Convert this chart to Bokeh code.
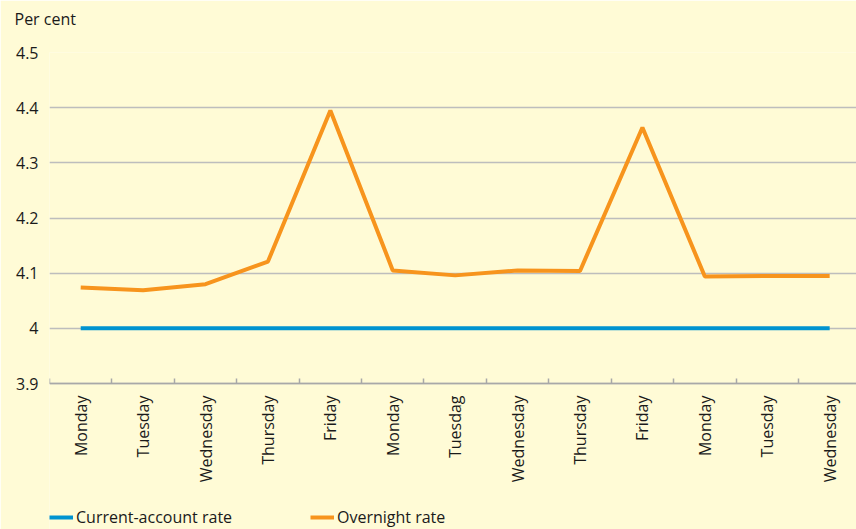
import math
from bokeh.plotting import figure
from bokeh.models import (Range1d, FixedTicker, CustomJSTickFormatter, Legend,
                          LegendItem, ColumnDataSource)
from bokeh.embed import file_html
from bokeh.resources import INLINE

days = ["Monday", "Tuesday", "Wednesday", "Thursday", "Friday",
        "Monday", "Tuesdag", "Wednesday", "Thursday", "Friday",
        "Monday", "Tuesday", "Wednesday"]
current_account = [4.0] * 13
overnight = [4.074, 4.069, 4.080, 4.121, 4.395, 4.105, 4.096, 4.105,
             4.104, 4.364, 4.094, 4.095, 4.095]
y_ticks = [3.9, 4.0, 4.1, 4.2, 4.3, 4.4, 4.5]

idx = list(range(len(days)))
src = ColumnDataSource(dict(x=idx, ca=current_account, on=overnight))

BG = "#FFFBD6"
FONT = "Open Sans"
TXT = "#1a1a1a"
FS = "16px"

# the frame reaches the bottom of the window; the value axis spans 331 px of it
PLOT_H = 331
EXTRA_H = 146
y_lo, y_hi = y_ticks[0], y_ticks[-1]
y_start = y_lo - EXTRA_H * (y_hi - y_lo) / PLOT_H

p = figure(frame_width=807, frame_height=PLOT_H + EXTRA_H,
           output_backend="svg", toolbar_location=None,
           x_range=Range1d(-0.5, 12.43), y_range=Range1d(y_start, y_hi),
           min_border_left=49, min_border_right=0, min_border_top=52,
           min_border_bottom=0)
p.background_fill_color = BG
p.border_fill_color = BG
p.outline_line_color = None

blue = p.line("x", "ca", source=src, line_color="#0093D0", line_width=4)
orange = p.line("x", "on", source=src, line_color="#F7941D", line_width=4)

# x axis, drawn at the 3.9 level
p.xaxis.fixed_location = y_lo
p.xaxis.ticker = FixedTicker(ticks=idx, minor_ticks=[i - 0.5 for i in range(14)])
p.xaxis.major_label_overrides = {i: d for i, d in enumerate(days)}
p.xaxis.major_label_orientation = math.pi / 2
p.xaxis.major_tick_line_color = None
p.xaxis.major_tick_out = 0
p.xaxis.major_tick_in = 0
p.xaxis.minor_tick_line_color = "#a8a8a8"
p.xaxis.minor_tick_line_width = 1.5
p.xaxis.minor_tick_in = 5
p.xaxis.minor_tick_out = 0
p.xaxis.axis_line_color = "#a8a8a8"
p.xaxis.axis_line_width = 1.5
p.xaxis.major_label_standoff = 12
p.xaxis.major_label_text_font = FONT
p.xaxis.major_label_text_font_size = FS
p.xaxis.major_label_text_color = TXT

# y axis
p.yaxis.ticker = FixedTicker(ticks=y_ticks)
p.yaxis.formatter = CustomJSTickFormatter(code="return tick.toFixed(1).replace('.0', '');")
p.yaxis.axis_line_color = None
p.yaxis.major_tick_line_color = None
p.yaxis.major_tick_out = 0
p.yaxis.major_tick_in = 0
p.yaxis.minor_tick_line_color = None
p.yaxis.major_label_standoff = 11
p.yaxis.major_label_text_font = FONT
p.yaxis.major_label_text_font_size = FS
p.yaxis.major_label_text_color = TXT

p.xgrid.grid_line_color = None
p.ygrid.grid_line_color = "#bdbdbd"
p.ygrid.grid_line_width = 1.5

# title ("Per cent"); the blank second line lifts it away from the frame
p.title.text = "Per cent\n\u00a0"
p.title.align = "left"
p.title.vertical_align = "bottom"
p.title.offset = -35
p.title.standoff = 2
p.title.text_font = FONT
p.title.text_font_size = FS
p.title.text_font_style = "normal"
p.title.text_color = TXT

legend = Legend(items=[LegendItem(label="Current-account rate", renderers=[blue]),
                       LegendItem(label="Overnight rate", renderers=[orange])],
                location=(0, 1), orientation="horizontal",
                glyph_width=24, label_standoff=3, label_width=230, spacing=4,
                padding=0, margin=0,
                border_line_color=None, background_fill_alpha=0,
                label_text_font=FONT, label_text_font_size=FS,
                label_text_color=TXT)
p.add_layout(legend, "center")

open("out.html", "w").write(file_html(p, INLINE))
